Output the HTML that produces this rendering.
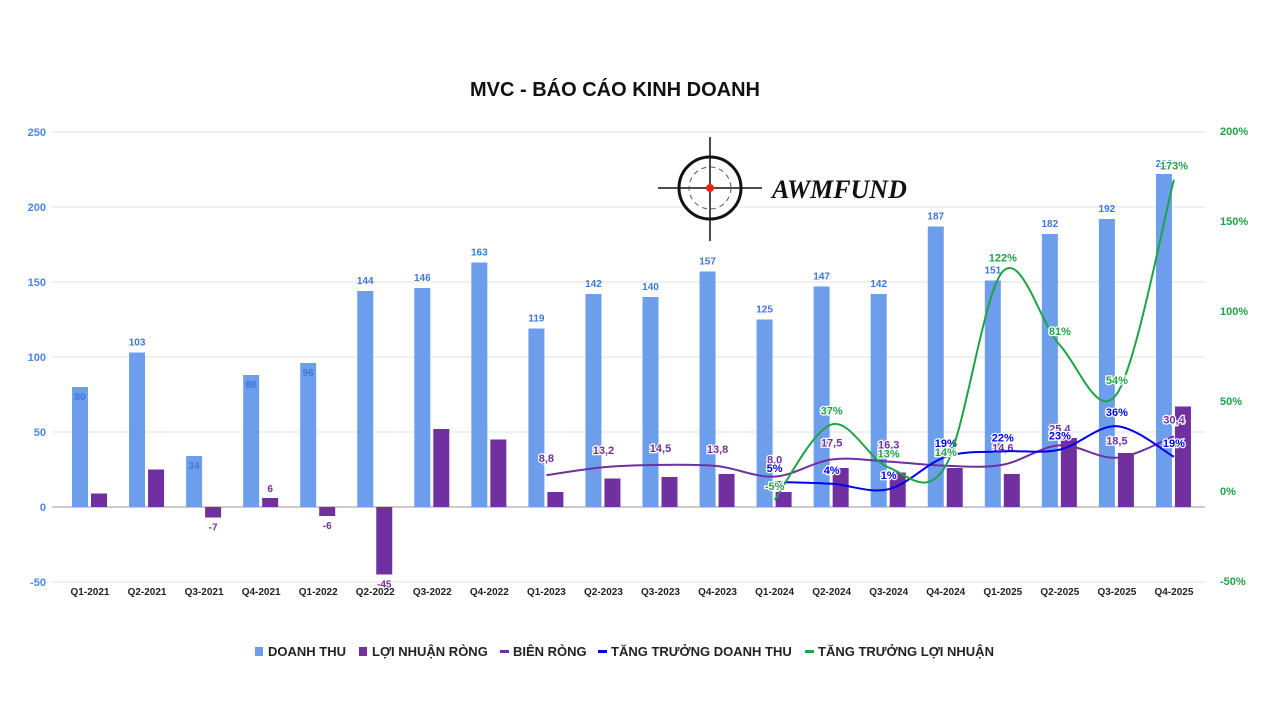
<!DOCTYPE html>
<html><head><meta charset="utf-8">
<style>
body{margin:0;background:#fff;font-family:"Liberation Sans",sans-serif;}
svg text{font-family:"Liberation Sans",sans-serif;}
svg text.logo{font-family:"Liberation Serif",serif;}
</style></head>
<body>
<svg id="c" width="1277" height="705">
<text x="615" y="96" text-anchor="middle" font-size="20" font-weight="bold" fill="#111">MVC - BÁO CÁO KINH DOANH</text>
<g id="grid"></g><g id="marks"></g>
<g>
<line x1="658" y1="188" x2="762" y2="188" stroke="#111" stroke-width="1.5"/>
<line x1="710" y1="137" x2="710" y2="241" stroke="#111" stroke-width="1.5"/>
<circle cx="710" cy="188" r="31" fill="#fff" stroke="#111" stroke-width="3"/>
<line x1="679" y1="188" x2="741" y2="188" stroke="#111" stroke-width="1.5"/>
<line x1="710" y1="157" x2="710" y2="219" stroke="#111" stroke-width="1.5"/>
<circle cx="710" cy="188" r="21" fill="none" stroke="#555" stroke-width="1" stroke-dasharray="5,4"/>
<circle cx="710" cy="188" r="4" fill="#e21"/>
<text class="logo" x="772" y="198" font-style="italic" font-weight="bold" font-size="26" fill="#111">AWMFUND</text>
</g>
<g id="legend"></g>
</svg>
<script>
const categories=["Q1-2021","Q2-2021","Q3-2021","Q4-2021","Q1-2022","Q2-2022","Q3-2022","Q4-2022","Q1-2023","Q2-2023","Q3-2023","Q4-2023","Q1-2024","Q2-2024","Q3-2024","Q4-2024","Q1-2025","Q2-2025","Q3-2025","Q4-2025"];
const revenue=[80,103,34,88,96,144,146,163,119,142,140,157,125,147,142,187,151,182,192,222];
const profit=[9,25,-7,6,-6,-45,52,45,10,19,20,22,10,26,23,26,22,46,36,67];
const profitLabels=[null,null,"-7","6","-6","-45",null,null,null,null,null,null,null,null,null,null,null,null,null,null];
const margin=[null,null,null,null,null,null,null,null,8.8,13.2,14.5,13.8,8.0,17.5,16.3,14,14.6,25.4,18.5,30.4];
const revGrowth=[null,null,null,null,null,null,null,null,null,null,null,null,5,4,1,19,22,23,36,19];
const profGrowth=[null,null,null,null,null,null,null,null,null,null,null,null,-5,37,13,14,122,81,54,173];
const leftTicks=[250,200,150,100,50,0,-50];
const rightTicks=[200,150,100,50,0,-50];
const NS="http://www.w3.org/2000/svg";
const yL=v=>507-v*1.5, yR=v=>491-v*1.8, xC=i=>90+i*57.05;
function el(t,a,p){const e=document.createElementNS(NS,t);for(const k in a)e.setAttribute(k,a[k]);p.appendChild(e);return e;}
const grid=document.getElementById('grid'),marks=document.getElementById('marks'),leg=document.getElementById('legend');
leftTicks.forEach(v=>{
  const l=el('line',{x1:52,x2:1205,y1:yL(v),y2:yL(v),stroke:v===0?'#999':'#e2e2e2','stroke-width':1},grid);
  
  const t=el('text',{x:46,y:yL(v)+4,'text-anchor':'end','font-size':11,fill:'#4a86e8','font-weight':'bold'},grid);t.textContent=v;
  
});
rightTicks.forEach(v=>{
  const t=el('text',{x:1220,y:yR(v)+4,'font-size':11,fill:'#1ea446','font-weight':'bold'},grid);t.textContent=v+'%';
  
});
categories.forEach((c,i)=>{
  const t=el('text',{x:xC(i),y:595,'text-anchor':'middle','font-size':10,fill:'#222','font-weight':'bold'},grid);t.textContent=c;
  
  const r=revenue[i],b=el('rect',{x:xC(i)-18,y:yL(r),width:16,height:r*1.5,fill:'#6d9eeb'},marks);
  
  const inside=r<100;
  const rt=el('text',{x:xC(i)-10,y:inside?yL(r)+13:yL(r)-7,'text-anchor':'middle','font-size':10,'font-weight':'bold',fill:'#3c78d8'},marks);rt.textContent=r;
  
  const p=profit[i],pb=el('rect',{x:xC(i)+1,y:p>=0?yL(p):yL(0),width:16,height:Math.abs(p)*1.5,fill:'#7030a0'},marks);
  
  if(profitLabels[i]){const pt=el('text',{x:xC(i)+9,y:p>=0?yL(p)-6:yL(p)+13,'text-anchor':'middle','font-size':10,'font-weight':'bold',fill:'#7030a0'},marks);pt.textContent=profitLabels[i];
  }
});
function spline(pts){let d='M'+pts[0][0]+','+pts[0][1];
  for(let i=0;i<pts.length-1;i++){const p0=pts[i-1]||pts[i],p1=pts[i],p2=pts[i+1],p3=pts[i+2]||p2;
    d+=` C${p1[0]+(p2[0]-p0[0])/6},${p1[1]+(p2[1]-p0[1])/6} ${p2[0]-(p3[0]-p1[0])/6},${p2[1]-(p3[1]-p1[1])/6} ${p2[0]},${p2[1]}`;}
  return d;}
function series(arr,color,name,dx,dy,fmt){
  const pts=[];arr.forEach((v,i)=>{if(v!==null)pts.push([xC(i)+dx,yR(v),v]);});
  const p=el('path',{d:spline(pts),fill:'none',stroke:color,'stroke-width':2},marks);
  
  pts.forEach(q=>{const t=el('text',{x:q[0],y:q[1]+dy,'text-anchor':'middle','font-size':11,'font-weight':'bold',fill:color,stroke:'#fff','stroke-width':2.5,'paint-order':'stroke'},marks);t.textContent=fmt(q[2]);
    });
}
series(margin,'#7030a0','net-margin',0,-13,v=>v.toFixed(1).replace('.',','));
series(revGrowth,'#0000ee','revenue-growth',0,-10,v=>Math.round(v)+'%');
series(profGrowth,'#1ea446','profit-growth',0,-10,v=>Math.round(v)+'%');
const legItems=[["DOANH THU","#6d9eeb","sq"],["LỢI NHUẬN RÒNG","#7030a0","sq"],["BIÊN RÒNG","#7030a0","ln"],["TĂNG TRƯỞNG DOANH THU","#0000ee","ln"],["TĂNG TRƯỞNG LỢI NHUẬN","#1ea446","ln"]];
const legX=[255,359,500,598,805];
legItems.forEach((it,i)=>{const g=el('g',{},leg);
  if(it[2]==='sq')el('rect',{x:legX[i],y:647,width:8,height:9,fill:it[1]},g);else el('rect',{x:legX[i],y:650,width:9,height:3,fill:it[1]},g);
  const t=el('text',{x:legX[i]+13,y:656,'font-size':13,'font-weight':'bold',fill:'#222'},g);t.textContent=it[0];});
</script>
</body></html>
